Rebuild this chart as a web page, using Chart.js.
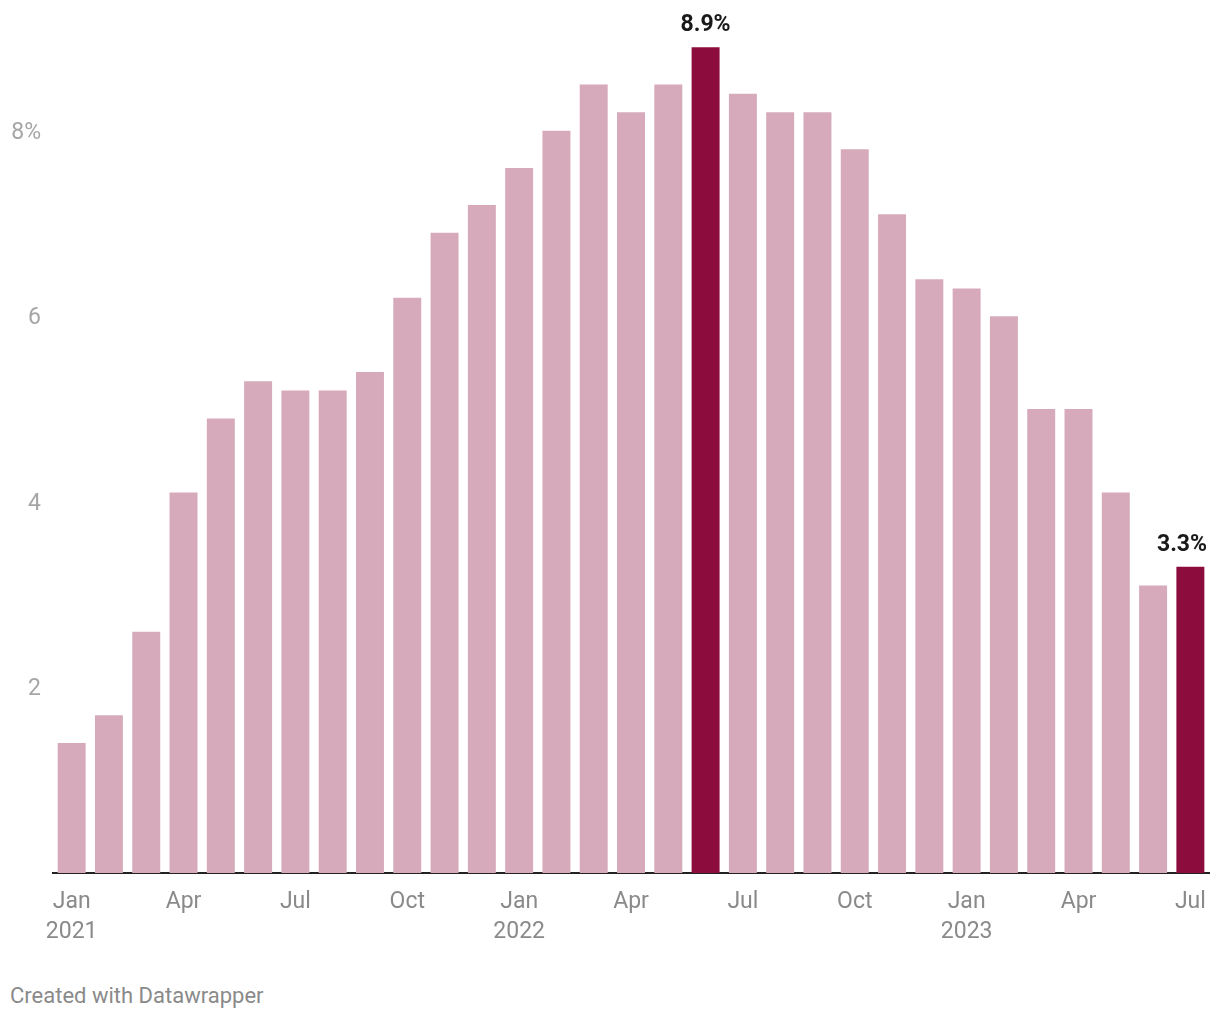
<!DOCTYPE html>
<html>
<head>
<meta charset="utf-8">
<script src="https://cdn.jsdelivr.net/npm/chart.js@4/dist/chart.umd.min.js"></script>
<style>
  html, body { margin: 0; padding: 0; background: #fff; }
  #wrap { position: relative; width: 1220px; height: 960px; }
  #footer { position: absolute; left: 10px; top: 983px; font-family: Roboto, sans-serif; font-size: 22px; line-height: normal; color: #8a8a8a; }
</style>
</head>
<body>
<div id="wrap"><canvas id="c"></canvas></div>
<div id="footer">Created with Datawrapper</div>
<script>
const months = [
  "Jan 2021","Feb 2021","Mar 2021","Apr 2021","May 2021","Jun 2021","Jul 2021","Aug 2021","Sep 2021","Oct 2021","Nov 2021","Dec 2021",
  "Jan 2022","Feb 2022","Mar 2022","Apr 2022","May 2022","Jun 2022","Jul 2022","Aug 2022","Sep 2022","Oct 2022","Nov 2022","Dec 2022",
  "Jan 2023","Feb 2023","Mar 2023","Apr 2023","May 2023","Jun 2023","Jul 2023"
];
const inflation = [
  1.4, 1.7, 2.6, 4.1, 4.9, 5.3, 5.2, 5.2, 5.4, 6.2, 6.9, 7.2,
  7.6, 8.0, 8.5, 8.2, 8.5, 8.9, 8.4, 8.2, 8.2, 7.8, 7.1, 6.4,
  6.3, 6.0, 5.0, 5.0, 4.1, 3.1, 3.3
];
const highlighted = ["Jun 2022", "Jul 2023"];
const yTicks = [2, 4, 6, 8];
const xTickMonths = ["Jan", "Apr", "Jul", "Oct"];

const LIGHT = "#d7aabb";
const DARK = "#8c0c3e";

const valueLabels = {
  id: "valueLabels",
  afterDatasetsDraw(chart) {
    const ctx = chart.ctx;
    const meta = chart.getDatasetMeta(0);
    ctx.save();
    ctx.font = "bold 23px Roboto, sans-serif";
    ctx.fillStyle = "#1a1a1a";
    ctx.textBaseline = "alphabetic";
    ctx.textAlign = "center";
    months.forEach((m, i) => {
      if (!highlighted.includes(m)) return;
      const el = meta.data[i];
      const txt = inflation[i].toFixed(1) + "%";
      const w = ctx.measureText(txt).width;
      let x = el.x;
      const maxRight = chart.chartArea.right - 2;
      if (x + w / 2 > maxRight) x = maxRight - w / 2;
      ctx.fillText(txt, x, el.y - 16);
    });
    ctx.restore();
  }
};

new Chart(document.getElementById("c"), {
  type: "bar",
  data: {
    labels: months,
    datasets: [{
      data: inflation,
      backgroundColor: months.map(m => highlighted.includes(m) ? DARK : LIGHT),
      barPercentage: 0.75,
      categoryPercentage: 1.0,
      borderWidth: 0
    }]
  },
  options: {
    responsive: true,
    maintainAspectRatio: false,
    animation: false,
    layout: { padding: { top: 38, right: 9, left: 0, bottom: 0 } },
    plugins: {
      legend: { display: false },
      tooltip: { enabled: false }
    },
    scales: {
      x: {
        grid: { display: false, drawTicks: false },
        border: { display: true, color: "#222", width: 2 },
        ticks: {
          autoSkip: false,
          maxRotation: 0,
          minRotation: 0,
          padding: 14,
          color: "#8a8a8a",
          font: { family: "Roboto, sans-serif", size: 23, lineHeight: 1.3 },
          callback: function (v, i) {
            const [mon, yr] = months[i].split(" ");
            if (!xTickMonths.includes(mon)) return "";
            return mon === "Jan" ? [mon, yr] : mon;
          }
        },
        afterFit(s) { s.height = 87; }
      },
      y: {
        min: 0,
        max: 9,
        grid: { display: false, drawTicks: false },
        border: { display: false },
        afterBuildTicks(s) { s.ticks = yTicks.map(v => ({ value: v })); },
        ticks: {
          padding: 12,
          labelOffset: 2,
          color: "#a6a6a6",
          font: { family: "Roboto, sans-serif", size: 23 },
          callback: v => v === 8 ? v + "%" : String(v)
        },
        afterFit(s) { s.width = 53; }
      }
    }
  },
  plugins: [valueLabels]
});
</script>
</body>
</html>
